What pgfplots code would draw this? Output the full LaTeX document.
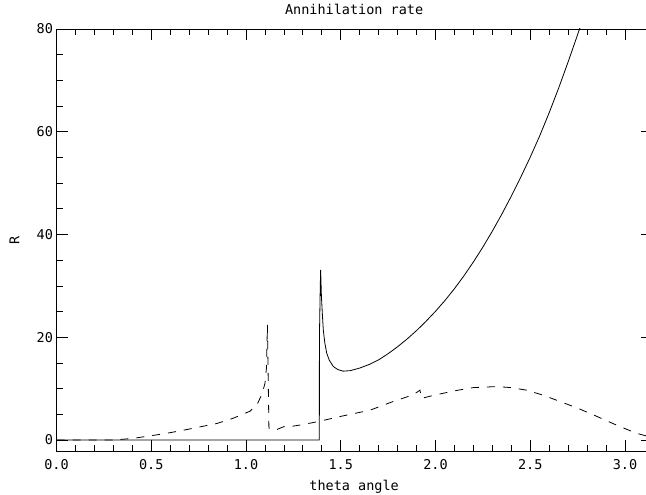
\documentclass[border=0pt]{standalone}
\usepackage{pgfplots}
\pgfplotsset{compat=1.18}
\usepackage{fontspec}
\setmainfont{DejaVu Sans Mono}
\newcommand{\lblfont}{\fontsize{13.5bp}{15bp}\selectfont}
\begin{document}
\begin{tikzpicture}
\begin{axis}[
  at={(56.5bp,44bp)}, anchor=south west,
  scale only axis, width=595.3bp, height=422bp,
  xmin=0, xmax=3.14159, ymin=-2.14, ymax=80,
  xtick={0,0.5,...,3.0}, minor x tick num=4,
  ytick={0,20,40,60,80}, minor y tick num=3,
  tick align=inside,
  major tick length=11bp, minor tick length=6bp,
  every tick/.style={black, line width=0.7bp},
  axis line style={line width=0.8bp},
  /pgf/number format/assume math mode=true,
  xticklabel style={/pgf/number format/fixed, /pgf/number format/fixed zerofill, /pgf/number format/precision=1, anchor=base, yshift=-18bp},
  yticklabel style={/pgf/number format/fixed, /pgf/number format/precision=0},
  tick label style={font=\lblfont},
  title={Annihilation rate},
  title style={font=\lblfont, at={(rel axis cs:0.5,1)}, anchor=base, yshift=9bp},
  xlabel={theta angle},
  xlabel style={font=\lblfont, at={(rel axis cs:0.5,0)}, anchor=base, yshift=-39.5bp},
  clip=true,
]
\addplot[black, line width=0.8bp] coordinates {
(0,0) (1.387,0) (1.3875,20) (1.392,30) (1.394,33.1) (1.398,28) (1.403,24.5)
(1.408,21.4) (1.416,18.9) (1.426,16.9) (1.44,15.5) (1.461,14.3) (1.485,13.7)
(1.513,13.4) (1.55,13.5) (1.60,14.0) (1.65,14.7) (1.70,15.6) (1.75,16.8)
(1.80,18.15) (1.85,19.65) (1.90,21.3) (1.95,23.1) (2.00,25.05) (2.05,27.15)
(2.10,29.45) (2.15,31.95) (2.20,34.65) (2.25,37.55) (2.30,40.65) (2.35,43.95)
(2.40,47.45) (2.45,51.15) (2.50,55.05) (2.55,59.2) (2.60,63.7) (2.65,68.5)
(2.70,73.6) (2.75,78.9) (2.80,84.4)
};
\addplot[black, line width=0.8bp, dash pattern=on 8bp off 8bp] coordinates {
(0,0) (0.3,0) (0.4,0.3) (0.493,0.8) (0.58,1.3) (0.669,1.9) (0.75,2.5)
(0.845,3.2) (0.93,4.2) (1.021,5.6) (1.06,7.0) (1.085,9.0) (1.100,11.0)
(1.108,14) (1.113,22.4) (1.121,2.3) (1.153,1.9) (1.18,2.3) (1.2,2.6)
(1.232,2.6) (1.3,3.0) (1.382,3.6) (1.5,4.6) (1.654,5.8) (1.777,7.5)
(1.883,8.8) (1.918,9.7) (1.927,8.1) (1.98,8.6) (2.041,9.1) (2.12,9.7)
(2.2,10.2) (2.323,10.4) (2.4,10.2) (2.481,9.7) (2.57,8.7) (2.657,7.5)
(2.75,6.2) (2.833,4.9) (2.9,3.8) (2.974,2.6) (3.062,1.3) (3.14159,0.5)
};
\end{axis}
\node[font=\lblfont, rotate=90] at (14.5bp,255bp) {R};
\pgfresetboundingbox
\path[use as bounding box] (0,0) rectangle (646bp,495bp);
\end{tikzpicture}
\end{document}
